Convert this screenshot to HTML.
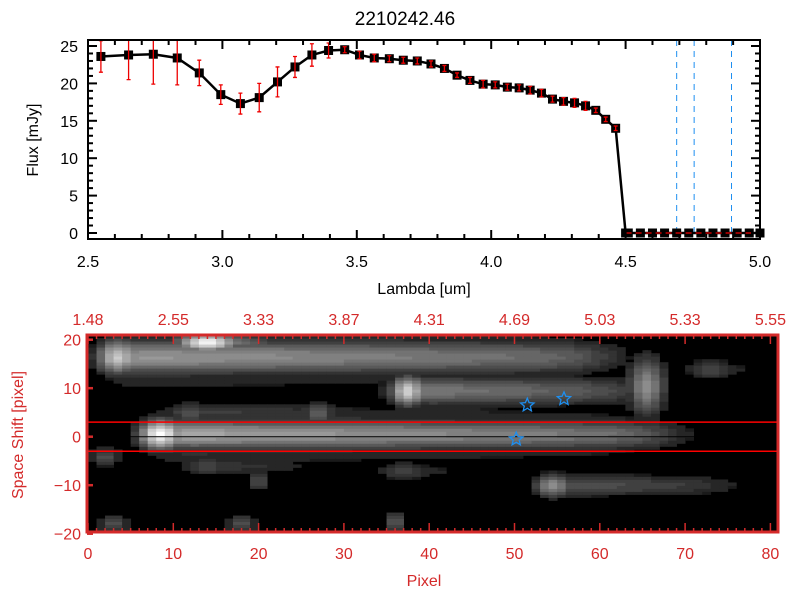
<!DOCTYPE html>
<html><head><meta charset="utf-8"><style>
body{margin:0;background:#fff;}
svg{display:block;font-family:"Liberation Sans",sans-serif;}
</style></head><body>
<svg id="fig" width="800" height="600" viewBox="0 0 800 600">
<rect width="800" height="600" fill="#fff"/>
<text x="405" y="25" font-size="19" text-anchor="middle">2210242.46</text>
<g id="topg"></g>
<g id="botg"></g>
</svg>
<script>
// ---- top chart data ----
var lambdas=[2.548,2.651,2.743,2.832,2.914,2.994,3.067,3.137,3.205,3.270,3.333,3.395,3.455,3.510,3.565,3.621,3.673,3.725,3.776,3.826,3.873,3.921,3.970,4.015,4.060,4.104,4.145,4.187,4.228,4.269,4.310,4.351,4.389,4.426,4.463,4.500,
4.51,4.555,4.6,4.645,4.69,4.735,4.78,4.825,4.87,4.915,4.96,5.0];
var fluxes=[23.6,23.8,23.9,23.4,21.4,18.5,17.3,18.1,20.2,22.2,23.8,24.4,24.5,23.8,23.4,23.3,23.1,23.0,22.6,22.0,21.1,20.4,19.9,19.8,19.5,19.4,19.1,18.7,17.9,17.6,17.4,17.0,16.4,15.2,14.0,0,
0,0,0,0,0,0,0,0,0,0,0,0];
var errs=[2.1,3.3,4.0,3.6,1.7,1.3,1.4,1.9,2.0,1.4,1.5,1.0,0.4,0.5,0.5,0.4,0.4,0.4,0.4,0.4,0.3,0.4,0.5,0.4,0.4,0.4,0.5,0.5,0.4,0.5,0.6,0.6,0.3,0.3,0.3,0,
0,0,0,0,0,0,0,0,0,0,0,0];
var xTicks=[2.5,3.0,3.5,4.0,4.5,5.0];
var xTickLabels=["2.5","3.0","3.5","4.0","4.5","5.0"];
var yTicks=[0,5,10,15,20,25];
var vLines=[4.69,4.755,4.894];
// ---- bottom image data ----
var pixTicks=[0,10,20,30,40,50,60,70,80];
var topTickLabels=["1.48","2.55","3.33","3.87","4.31","4.69","5.03","5.33","5.55"];
var shiftTicks=[20,10,0,-10,-20];
// streaks: [headX, headY, amp, tailLen, tailLevel, sigX, sigY]
var streaks=[[3.5,16.5,0.78,58,0.6,2.5,3.5],[14,19.5,0.97,8,0.6,3.5,1.8],[37.5,9.5,0.82,28,0.48,2.0,3.0],[65.5,10.5,0.55,3,0.3,2.2,6],[8.5,0.5,1.0,60,0.66,2.5,3.0],[54.5,-10,0.55,22,0.32,2.2,2.4],
[12,5,0.3,22,0.25,3,2.2],[27,5,0.38,1,0.2,2,2.2],[36,-17.5,0.33,1,0.2,1.5,2.2],[20,-9,0.3,1,0.2,1.5,2.2],[3,-18,0.3,4,0.22,2,2.2],[18,-18,0.3,4,0.22,2,2.2],[2,-4,0.3,3,0.2,2,2.2],[73,14,0.28,6,0.22,3,2.2],[37,-7,0.28,8,0.2,3,2],[14,-6,0.28,14,0.22,3,2]];
var starPts=[[51.5,6.5],[55.8,7.8],[50.2,-0.5]];

(function(){
try{
var NS="http://www.w3.org/2000/svg";
function mk(tag,attrs,par){var e=document.createElementNS(NS,tag);for(var k in attrs)e.setAttribute(k,attrs[k]);par.appendChild(e);return e;}
var T={l:88,r:760,t:40,b:239};
function tx(v){return T.l+(v-2.5)/2.5*(T.r-T.l);}
function ty(v){return 233-v*7.48;}
var topG=document.getElementById('topg');
while(topG.firstChild)topG.removeChild(topG.firstChild);
vLines.forEach(function(v){var e=mk('line',{x1:tx(v),x2:tx(v),y1:T.t,y2:T.b,stroke:'#1e8ff0','stroke-width':1,'stroke-dasharray':'6,5'},topG);

});
var d='';lambdas.forEach(function(l,i){d+=(i?'L':'M')+tx(l)+','+ty(fluxes[i]);});
var ln=mk('path',{d:d,fill:'none',stroke:'#000','stroke-width':2.5},topG);


lambdas.forEach(function(l,i){
  var x=tx(l),y=ty(fluxes[i]);
  var s=mk('rect',{x:x-4.5,y:y-4.5,width:9,height:9,fill:'#000'},topG);
  
  
  if(errs[i]>0){
    var y1=Math.max(T.t,ty(fluxes[i]+errs[i])),y2=ty(fluxes[i]-errs[i]);
    var e=mk('path',{d:'M'+x+','+y1+'V'+y2+'M'+(x-2)+','+y1+'H'+(x+2)+'M'+(x-2)+','+y2+'H'+(x+2),stroke:'#e00','stroke-width':1.3,fill:'none'},topG);
    
    
  }
});
var zl=mk('line',{x1:tx(4.5),x2:T.r,y1:ty(0),y2:ty(0),stroke:'#e00','stroke-width':1.3,'stroke-dasharray':'6,4'},topG);


mk('rect',{x:T.l,y:T.t,width:T.r-T.l,height:T.b-T.t,fill:'none',stroke:'#000','stroke-width':2},topG);
for(var k=0;k<=25;k++){var x=tx(2.5+k*0.1);var L=(k%5==0)?9:5;
 mk('line',{x1:x,x2:x,y1:T.b,y2:T.b-L,stroke:'#000','stroke-width':2},topG);mk('line',{x1:x,x2:x,y1:T.t,y2:T.t+L,stroke:'#000','stroke-width':2},topG);}
for(var v=0;v<=25;v+=1){var y=ty(v);var L2=(v%5==0)?9:5;
 mk('line',{x1:T.l,x2:T.l+L2,y1:y,y2:y,stroke:'#000','stroke-width':2},topG);mk('line',{x1:T.r,x2:T.r-L2,y1:y,y2:y,stroke:'#000','stroke-width':2},topG);}
xTicks.forEach(function(v,i){var t=mk('text',{x:tx(v),y:T.b+28,'font-size':16,'text-anchor':'middle'},topG);t.textContent=xTickLabels[i];

});
yTicks.forEach(function(v){var t=mk('text',{x:T.l-10,y:ty(v)+6,'font-size':16,'text-anchor':'end'},topG);t.textContent=String(v);

});
var t1=mk('text',{x:424,y:294,'font-size':16,'text-anchor':'middle'},topG);t1.textContent='Lambda [um]';


t1=mk('text',{x:0,y:0,'font-size':16,'text-anchor':'middle',transform:'translate(38,140) rotate(-90)'},topG);t1.textContent='Flux [mJy]';



// bottom image
var B={l:87,r:778,t:335,b:532};
function bx(v){return 88+v*8.53;}
function by(v){return 436.7-v*4.85;}
var RED='#d42a2a';
var botG=document.getElementById('botg');
while(botG.firstChild)botG.removeChild(botG.firstChild);
mk('rect',{x:B.l,y:B.t,width:B.r-B.l,height:B.b-B.t,fill:'#000'},botG);
function inten(x,y){var m=0.06;
 for(var j=0;j<streaks.length;j++){var s=streaks[j];var hx=s[0],hy=s[1],a=s[2],Ln=s[3],tl=s[4],sx=s[5],sy=s[6];
  var gy=Math.exp(-Math.pow((y-hy)/sy,2));
  var halo=Math.exp(-Math.pow((y-hy)/(sy*2.2),2));
  var val=a*Math.exp(-Math.pow((x-hx)/sx,2))*gy;
  var fade=1/(1+Math.exp((x-hx-Ln)/2.5));
  var rise=1/(1+Math.exp(-(x-hx+2)/1.2));
  var tail=tl*(1-0.35*Math.min(1,Math.max(0,(x-hx)/Ln)))*fade*rise;
  val=Math.max(val,tail*gy,0.4*tail*halo);
  m=Math.max(m,val);}
 return m;}
var cells=document.createElementNS(NS,'g');botG.appendChild(cells);


for(var ci=0;ci<81;ci++){for(var cy=-20.6;cy<20.6;cy+=0.62){
 var iv=inten(ci+0.5,cy+0.31);if(iv<0.12)continue;iv=Math.min(1,iv);var g=Math.round(Math.round(iv*20)/20*255);
 var x0=Math.max(B.l,bx(ci)),x1=Math.min(B.r,bx(ci+1));var y0=Math.max(B.t,by(cy+0.62)),y1b=Math.min(B.b,by(cy));
 if(x1<=x0||y1b<=y0)continue;
 mk('rect',{x:x0,y:y0,width:x1-x0+0.4,height:y1b-y0+0.4,fill:'rgb('+g+','+g+','+g+')'},cells);}}
[3,-3].forEach(function(v){var e=mk('line',{x1:B.l,x2:B.r,y1:by(v),y2:by(v),stroke:'#f00','stroke-width':1.5},botG);

});
var cl=mk('line',{x1:B.l,x2:B.r,y1:by(0),y2:by(0),stroke:'#000','stroke-width':1},botG);


function star(cx,cyy,r){var p='';for(var i=0;i<10;i++){var an=-Math.PI/2+i*Math.PI/5;var rr=(i%2)?r*0.45:r;p+=(i?'L':'M')+(cx+rr*Math.cos(an)).toFixed(1)+','+(cyy+rr*Math.sin(an)).toFixed(1);}return p+'Z';}
starPts.forEach(function(p){var s=mk('path',{d:star(bx(p[0]),by(p[1]),7),fill:'none',stroke:'#1e8ff0','stroke-width':1.3},botG);

});
mk('rect',{x:B.l,y:B.t,width:B.r-B.l,height:B.b-B.t,fill:'none',stroke:RED,'stroke-width':3},botG);
for(var q=0;q<=81;q+=1){var xq=bx(q);if(xq>B.r)break;var Lq=(q%10==0)?9:4;
 mk('line',{x1:xq,x2:xq,y1:B.b,y2:B.b-Lq,stroke:RED,'stroke-width':1.5},botG);mk('line',{x1:xq,x2:xq,y1:B.t,y2:B.t+Lq,stroke:RED,'stroke-width':1.5},botG);}
for(var w=-20;w<=20;w+=10){var yw=by(w);mk('line',{x1:B.l,x2:B.l+6,y1:yw,y2:yw,stroke:RED,'stroke-width':2.5},botG);}
pixTicks.forEach(function(v,i){var t=mk('text',{x:bx(v),y:B.b+27,'font-size':16,'text-anchor':'middle',fill:RED},botG);t.textContent=String(v);


t=mk('text',{x:bx(v),y:B.t-10,'font-size':16,'text-anchor':'middle',fill:RED},botG);t.textContent=topTickLabels[i];

});
shiftTicks.forEach(function(v){var t=mk('text',{x:B.l-6,y:by(v)+6,'font-size':16,'text-anchor':'end',fill:RED},botG);t.textContent=(v==0)?'0':((v<0)?'\u2212'+(-v):String(v));

});
t1=mk('text',{x:424,y:586,'font-size':16,'text-anchor':'middle',fill:RED},botG);t1.textContent='Pixel';


t1=mk('text',{x:0,y:0,'font-size':16,'text-anchor':'middle',fill:RED,transform:'translate(23,435) rotate(-90)'},botG);t1.textContent='Space Shift [pixel]';


}catch(err){console.error(err);}
})();
</script>
</body></html>
